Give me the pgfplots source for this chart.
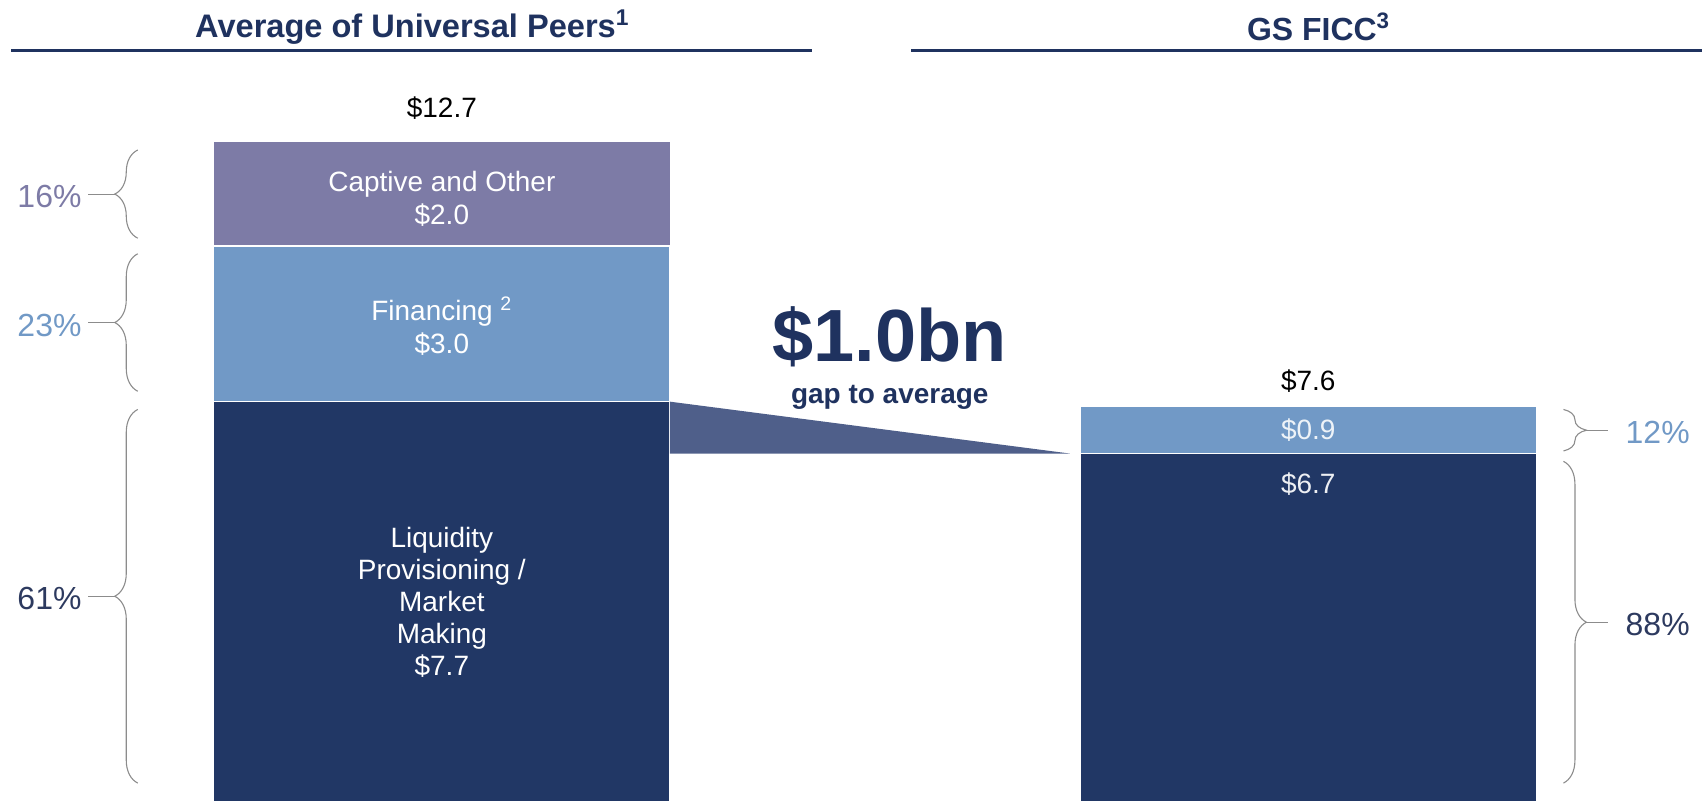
\documentclass[border=0pt]{standalone}
\usepackage{pgfplots}
\pgfplotsset{compat=1.18}
\usepackage{fontspec}
\setmainfont{Liberation Sans}
\usetikzlibrary{decorations.pathreplacing}
\definecolor{navy}{RGB}{33,55,101}
\definecolor{finblue}{RGB}{113,153,198}
\definecolor{captive}{RGB}{125,123,166}
\definecolor{gapcol}{RGB}{79,95,138}
\definecolor{titlecol}{RGB}{31,50,95}
\definecolor{bracecol}{RGB}{140,140,140}
\definecolor{pctnavy}{RGB}{45,58,95}
\begin{document}
\begin{tikzpicture}
\pgfplotsset{base/.style={width=852pt,height=401pt,scale only axis,
  xmin=-0.51,xmax=1.455,ymin=0,ymax=15.44,hide axis,clip=false}}
\begin{axis}[base, ybar stacked, bar width=0.5263]
\addplot[fill=navy, draw=white, line width=0.6pt] coordinates {(0,7.7) (1,6.7)};
\addplot[fill=finblue, draw=white, line width=0.6pt] coordinates {(0,3.0) (1,0.9)};
\addplot[fill=captive, draw=none] coordinates {(0,2.0) (1,0)};
\end{axis}
\begin{axis}[base]
\path (rel axis cs:0,0) rectangle (rel axis cs:1,1);
% gap wedge
\addplot[fill=gapcol, draw=none] coordinates {(0.2632,7.7) (0.2632,6.7) (0.725,6.7) (0.2632,7.7)};
% title underlines
\addplot[titlecol, line width=1.6pt] coordinates {(-0.497,14.46) (0.427,14.46)};
\addplot[titlecol, line width=1.6pt] coordinates {(0.542,14.46) (1.455,14.46)};
% titles
\node[text=titlecol, font=\bfseries\fontsize{16.3}{19}\selectfont] at (axis cs:-0.034,14.92) {Average of Universal Peers\textsuperscript{1}};
\node[text=titlecol, font=\bfseries\fontsize{16}{19}\selectfont] at (axis cs:1.012,14.92) {GS FICC\textsuperscript{3}};
% totals
\node[font=\fontsize{14}{17}\selectfont] at (axis cs:0,13.35) {\$12.7};
\node[font=\fontsize{14}{17}\selectfont] at (axis cs:1,8.1) {\$7.6};
% bar labels
\node[text=white, align=center, font=\fontsize{14}{16.5}\selectfont] at (axis cs:0,11.6) {Captive and Other\\\$2.0};
\node[text=white, align=center, font=\fontsize{14}{16.5}\selectfont] at (axis cs:0,9.16) {Financing \textsuperscript{2}\\\$3.0};
\node[text=white, align=center, font=\fontsize{14}{16}\selectfont] at (axis cs:0,3.83) {Liquidity\\Provisioning /\\Market\\Making\\\$7.7};
\node[text=white!88!finblue, font=\fontsize{14}{16}\selectfont] at (axis cs:1,7.15) {\$0.9};
\node[text=white!92!navy, font=\fontsize{14}{16}\selectfont] at (axis cs:1,6.12) {\$6.7};
% gap text
\node[text=titlecol, font=\bfseries\fontsize{37}{42}\selectfont] at (axis cs:0.517,8.95) {\$1.0bn};
\node[text=titlecol, font=\bfseries\fontsize{14}{17}\selectfont] at (axis cs:0.517,7.78) {gap to average};
% left braces
\tikzset{br/.style={bracecol, line width=0.55pt, decorate, decoration={brace, amplitude=11.5pt}}}
\draw[br] (axis cs:-0.351,10.85) -- (axis cs:-0.351,12.55);
\draw[bracecol, line width=0.55pt] (axis cs:-0.3775,11.7) -- (axis cs:-0.408,11.7);
\node[anchor=east, inner sep=0pt, text=captive, font=\fontsize{16}{19}\selectfont] at (axis cs:-0.4155,11.65) {16\%};
\draw[br] (axis cs:-0.351,7.9) -- (axis cs:-0.351,10.55);
\draw[bracecol, line width=0.55pt] (axis cs:-0.3775,9.225) -- (axis cs:-0.408,9.225);
\node[anchor=east, inner sep=0pt, text=finblue, font=\fontsize{16}{19}\selectfont] at (axis cs:-0.4155,9.175) {23\%};
\draw[br] (axis cs:-0.351,0.35) -- (axis cs:-0.351,7.55);
\draw[bracecol, line width=0.55pt] (axis cs:-0.3775,3.95) -- (axis cs:-0.408,3.95);
\node[anchor=east, inner sep=0pt, text=pctnavy, font=\fontsize{16}{19}\selectfont] at (axis cs:-0.4155,3.9) {61\%};
% right braces
\draw[br] (axis cs:1.2946,7.55) -- (axis cs:1.2946,6.75);
\draw[bracecol, line width=0.55pt] (axis cs:1.3211,7.15) -- (axis cs:1.3455,7.15);
\node[anchor=west, inner sep=0pt, text=finblue, font=\fontsize{16}{19}\selectfont] at (axis cs:1.366,7.1) {12\%};
\draw[br] (axis cs:1.2946,6.55) -- (axis cs:1.2946,0.35);
\draw[bracecol, line width=0.55pt] (axis cs:1.3211,3.45) -- (axis cs:1.3455,3.45);
\node[anchor=west, inner sep=0pt, text=pctnavy, font=\fontsize{16}{19}\selectfont] at (axis cs:1.366,3.4) {88\%};
\end{axis}
\end{tikzpicture}
\end{document}
